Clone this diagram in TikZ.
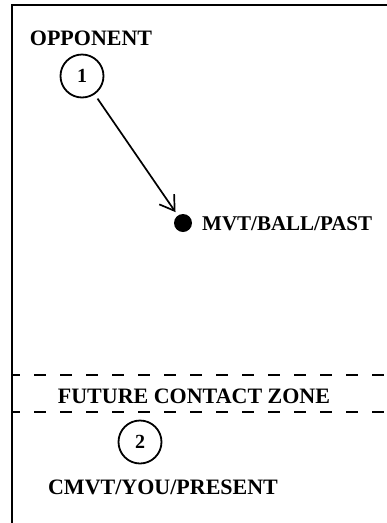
\documentclass[tikz,border=0pt]{standalone}
\usepackage{fontspec}
\setmainfont{Liberation Serif}
\usetikzlibrary{arrows.meta}

\begin{document}
\begin{tikzpicture}[x=1pt,y=-1pt]
            \tikzset{lbl/.style = {font=\fontsize{22}{26}\selectfont\bfseries, inner sep=0pt}}
            \tikzset{num/.style = {circle, draw, line width=1.8pt, minimum size=43pt, inner sep=0pt, font=\fontsize{20}{24}\selectfont\bfseries}}
            \tikzset{smalledge/.style = {-{Straight Barb[length=14pt,width=18pt]}, line width=1.7pt, shorten <=5pt, shorten >=4pt}}
            \tikzset{zone/.style = {line width=1.6pt, dash pattern=on 12pt off 14pt, dash phase=4pt}}

            \useasboundingbox (0,0) rectangle (387,523);
            \draw[line width=2.2pt] (387,5) -- (12,5) -- (12,523);

            \node[lbl] (opp) at (91,38) {OPPONENT};
            \node[num] (p1) at (82,76) {1};

            \node[circle, fill, minimum size=18pt, inner sep=0pt] (ball) at (183,223) {};
            \node[lbl, anchor=west, font=\fontsize{21}{25}\selectfont\bfseries] (balltxt) at (202,224) {MVT/BALL/PAST};
            \draw[smalledge] (p1) -- (ball);

            % contact zone
            \draw[zone] (12,375) -- (387,375);
            \draw[zone] (12,412) -- (387,412);
            \node[lbl] (fcz) at (194,396) {FUTURE CONTACT ZONE};

            \node[num] (p2) at (140,442) {2};
            \node[lbl] (you) at (163,487) {CMVT/YOU/PRESENT};

        \end{tikzpicture}
\end{document}
